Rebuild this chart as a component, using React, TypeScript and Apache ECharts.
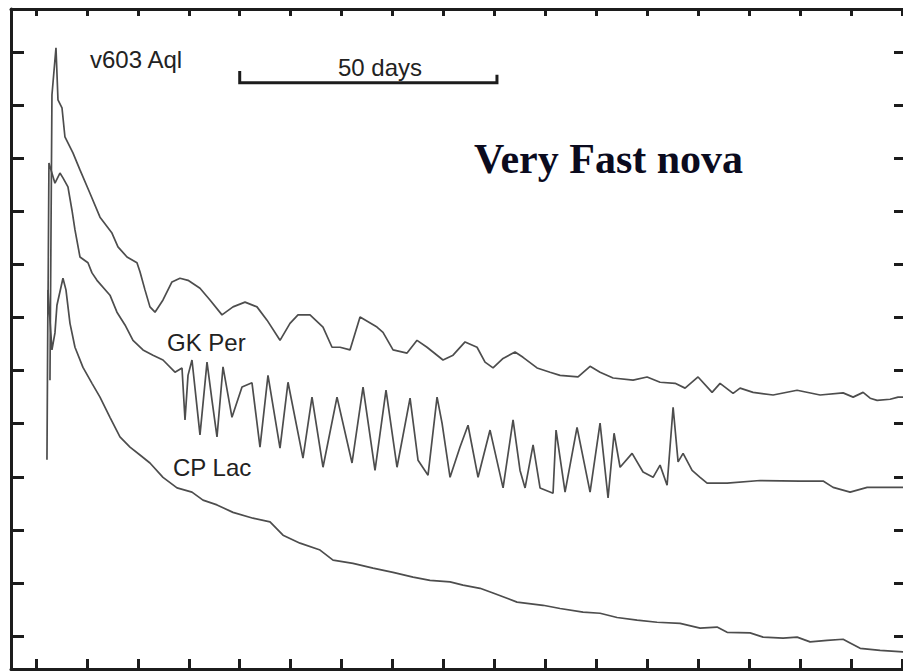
import React, { useEffect, useRef } from "react";
import * as echarts from "echarts";

// Axis ticks (days since outburst, magnitudes)
const xTicks = [0, 10, 20, 30, 40, 50, 60, 70, 80, 90, 100, 110, 120, 130, 140, 150, 160, 170];
const yTicks = [1, 2, 3, 4, 5, 6, 7, 8, 9, 10, 11, 12];

// v603 Aql light curve [day, mag]
const v603Aql: [number, number][] = [
  [2.75, 7.18], [3.14, 1.81], [3.93, 0.92], [4.32, 1.9], [5.11, 2.05], [5.69, 2.6],
  [7.26, 2.9], [8.64, 3.22], [10.6, 3.66], [12.57, 4.11], [14.92, 4.41], [16.1, 4.67],
  [17.87, 4.86], [19.83, 4.97], [20.42, 5.14], [21.4, 5.48], [22.38, 5.8], [23.37, 5.9],
  [24.94, 5.67], [26.7, 5.33], [28.27, 5.26], [29.85, 5.3], [32.2, 5.45], [34.16, 5.67],
  [36.52, 5.95], [38.68, 5.8], [41.04, 5.71], [43.39, 5.8], [45.36, 6.05], [47.91, 6.43],
  [49.87, 6.11], [51.44, 5.95], [53.8, 5.95], [56.35, 6.18], [58.12, 6.56], [59.69, 6.56],
  [61.65, 6.61], [63.62, 5.99], [66.95, 6.18], [68.13, 6.28], [70.1, 6.61], [72.85, 6.67],
  [74.81, 6.43], [76.77, 6.56], [79.91, 6.8], [81.88, 6.71], [84.24, 6.46], [86.59, 6.56],
  [88.16, 6.84], [89.73, 6.95], [91.7, 6.77], [94.05, 6.65], [95.62, 6.75], [98.37, 6.95],
  [100.92, 7.03], [102.89, 7.09], [106.42, 7.12], [108.78, 6.92], [110.74, 7.03],
  [113.3, 7.14], [117.22, 7.18], [119.97, 7.12], [122.52, 7.22], [125.47, 7.24],
  [127.43, 7.33], [129.98, 7.12], [132.73, 7.41], [134.3, 7.24], [136.86, 7.43],
  [138.23, 7.33], [140.78, 7.41], [144.71, 7.46], [149.42, 7.37], [153.94, 7.46],
  [158.45, 7.42], [160.42, 7.5], [162.38, 7.41], [163.76, 7.52], [165.13, 7.56],
  [167.68, 7.54], [169.25, 7.5], [170.8, 7.5],
];

// GK Per light curve [day, mag]
const gkPer: [number, number][] = [
  [2.36, 5.86], [2.55, 3.09], [3.73, 3.47], [4.71, 3.28], [5.3, 3.37], [6.28, 3.54],
  [7.07, 3.98], [7.66, 4.35], [8.64, 4.86], [10.21, 4.97], [11.0, 5.16], [11.98, 5.3],
  [14.53, 5.58], [15.9, 5.9], [17.48, 6.14], [19.05, 6.43], [21.01, 6.61], [22.97, 6.71],
  [24.94, 6.8], [27.29, 7.03], [28.67, 6.95], [29.26, 7.93], [29.85, 7.09], [30.63, 6.8],
  [32.2, 8.21], [33.58, 6.84], [34.56, 7.56], [35.54, 8.25], [36.72, 6.93], [38.48, 7.88],
  [40.45, 7.31], [42.41, 7.23], [43.98, 8.44], [45.55, 7.09], [47.91, 8.46], [49.48, 7.22],
  [52.42, 8.65], [54.19, 7.5], [56.35, 8.82], [59.1, 7.5], [62.05, 8.74], [64.21, 7.31],
  [66.56, 8.88], [68.72, 7.37], [70.88, 8.82], [73.44, 7.52], [75.01, 8.69], [76.97, 8.97],
  [78.74, 7.5], [79.72, 7.99], [81.29, 9.01], [83.25, 8.44], [84.82, 8.03], [86.79, 9.01],
  [89.14, 8.12], [91.7, 9.21], [93.66, 7.93], [95.03, 8.88], [96.02, 9.21], [97.59, 8.4],
  [98.96, 9.21], [101.51, 9.31], [102.1, 8.12], [103.87, 9.29], [106.22, 8.07],
  [108.78, 9.29], [110.74, 7.99], [112.31, 9.4], [113.49, 8.18], [114.67, 8.82],
  [117.03, 8.56], [119.18, 8.91], [121.15, 9.01], [122.52, 8.78], [123.9, 9.16],
  [125.08, 7.69], [126.06, 8.72], [127.04, 8.56], [128.81, 8.88], [130.38, 9.01],
  [131.75, 9.12], [135.68, 9.12], [142.16, 9.07], [150.01, 9.08], [154.53, 9.08],
  [156.49, 9.2], [159.83, 9.29], [163.17, 9.2], [170.8, 9.2],
];

// CP Lac light curve [day, mag]
const cpLac: [number, number][] = [
  [2.16, 8.68], [2.36, 5.48], [3.14, 6.61], [3.73, 6.29], [4.12, 5.77], [5.3, 5.26],
  [5.89, 5.48], [6.68, 6.11], [7.66, 6.56], [9.23, 6.94], [11.0, 7.24], [12.57, 7.5],
  [14.53, 7.88], [16.49, 8.25], [18.46, 8.44], [20.42, 8.59], [22.38, 8.74], [24.94, 9.01],
  [27.69, 9.21], [30.63, 9.29], [32.79, 9.44], [35.54, 9.53], [38.68, 9.67], [42.61, 9.78],
  [45.95, 9.85], [48.5, 10.1], [51.84, 10.25], [55.77, 10.38], [58.32, 10.57],
  [62.24, 10.63], [66.17, 10.72], [70.1, 10.8], [74.03, 10.89], [77.36, 10.95],
  [81.29, 10.98], [83.84, 11.04], [87.18, 11.1], [89.73, 11.19], [94.44, 11.36],
  [99.55, 11.42], [102.89, 11.48], [107.4, 11.55], [110.74, 11.57], [114.08, 11.65],
  [118.01, 11.7], [121.93, 11.74], [126.45, 11.76], [130.38, 11.85], [133.71, 11.83],
  [135.68, 11.93], [140.19, 11.94], [142.75, 12.02], [146.67, 12.04], [149.42, 12.02],
  [151.97, 12.11], [155.31, 12.08], [158.45, 12.06], [159.83, 12.13], [161.8, 12.23],
  [165.72, 12.27], [170.8, 12.3],
];

// 50-day scale bar [day, mag]
const scaleBar: [number, number][] = [[40, 1.36], [40, 1.58], [90.5, 1.58], [90.5, 1.43]];

const FRAME = "#1c1c1c";
const CURVE = "#4d4d4d";

export default function App() {
  const ref = useRef<HTMLDivElement>(null);
  useEffect(() => {
    if (!ref.current) return;
    const chart = echarts.init(ref.current, null, { renderer: "svg" });
    const axisCommon = (len: number, ticks: number[], showLine = true) => ({
      type: "value" as const,
      axisLine: { show: showLine, onZero: false, lineStyle: { color: FRAME, width: 3 } },
      axisTick: { show: true, inside: true, length: len, customValues: ticks, lineStyle: { color: FRAME, width: 3 } },
      axisLabel: { show: false },
      splitLine: { show: false },
    });
    const lineSeries = (name: string, data: [number, number][]) => ({
      name,
      type: "line" as const,
      data,
      showSymbol: false,
      symbol: "none",
      lineStyle: { color: CURVE, width: 1.7 },
      silent: true,
    });
    const sans = "24px 'Liberation Sans', Arial, sans-serif";
    chart.setOption({
      animation: false,
      backgroundColor: "#ffffff",
      grid: { left: 11, top: 9, right: -3, bottom: 2, outerBoundsMode: "none", containLabel: false },
      xAxis: [
        { ...axisCommon(10, xTicks), position: "bottom", min: -4.9, max: 170.8 },
        { ...axisCommon(7, xTicks), position: "top", min: -4.9, max: 170.8 },
      ],
      yAxis: [
        { ...axisCommon(13, yTicks), position: "left", inverse: true, min: 0.19, max: 12.62 },
        { ...axisCommon(12, yTicks, false), position: "right", inverse: true, min: 0.19, max: 12.62 },
      ],
      series: [
        lineSeries("v603 Aql", v603Aql),
        lineSeries("GK Per", gkPer),
        lineSeries("CP Lac", cpLac),
        {
          name: "50 days",
          type: "line",
          data: scaleBar,
          showSymbol: false,
          symbol: "none",
          lineStyle: { color: FRAME, width: 3, join: "miter", cap: "butt" },
          silent: true,
        },
      ],
      graphic: [
        { type: "text", left: 90, top: 47, style: { text: "v603 Aql", font: sans, fill: "#222" } },
        { type: "text", left: 338, top: 55, style: { text: "50 days", font: sans, fill: "#222" } },
        { type: "text", left: 167, top: 330, style: { text: "GK Per", font: sans, fill: "#222" } },
        { type: "text", left: 173, top: 455, style: { text: "CP Lac", font: sans, fill: "#222" } },
        { type: "text", left: 474, top: 138, style: { text: "Very Fast nova", font: "bold 42px 'Liberation Serif', 'Times New Roman', serif", fill: "#0b0b1e" } },
      ],
    });
    return () => chart.dispose();
  }, []);
  return (
    <div
      ref={ref}
      style={{ position: "fixed", left: 0, top: 0, width: 903, height: 671, background: "#fff" }}
    />
  );
}
